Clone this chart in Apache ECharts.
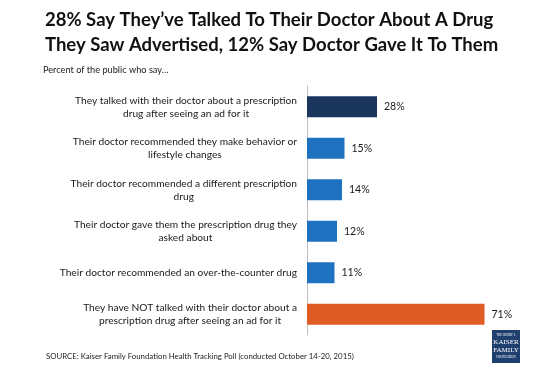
<!DOCTYPE html>
<html>
<head>
<meta charset="utf-8">
<script src="https://cdn.jsdelivr.net/npm/echarts@6/dist/echarts.min.js"></script>
<style>
html,body{margin:0;padding:0;background:#fff;}
#c{width:553px;height:369px;}
</style>
</head>
<body>
<div id="c"></div>
<script>
const categories = [
  "They talked with their doctor about a prescription\ndrug after seeing an ad for it",
  "Their doctor recommended they make behavior or\nlifestyle changes",
  "Their doctor recommended a different prescription\ndrug",
  "Their doctor gave them the prescription drug they\nasked about",
  "Their doctor recommended an over-the-counter drug",
  "They have NOT talked with their doctor about a\nprescription drug after seeing an ad for it"
];
const values = [28, 15, 14, 12, 11, 71];
const barColors = ["#1b365d", "#1f72c0", "#1f72c0", "#1f72c0", "#1f72c0", "#e05c25"];
const titleText = "28% Say They\u2019ve Talked To Their Doctor About A Drug\nThey Saw Advertised, 12% Say Doctor Gave It To Them";
const subtitleText = "Percent of the public who say\u2026";
const sourceText = "SOURCE: Kaiser Family Foundation Health Tracking Poll (conducted October 14-20, 2015)";

const FONT = "Lato, 'Open Sans', sans-serif";
const chart = echarts.init(document.getElementById('c'), null, {renderer: 'canvas'});
chart.setOption({
  backgroundColor: '#ffffff',
  animation: false,
  title: [{
    text: titleText,
    left: 45, top: 8, padding: 0,
    textStyle: {fontFamily: FONT, fontWeight: 'bold', fontSize: 18.5, lineHeight: 25, color: '#111'}
  }, {
    text: subtitleText,
    left: 43, top: 66, padding: 0,
    textStyle: {fontFamily: FONT, fontWeight: 'normal', fontSize: 9.2, color: '#222'}
  }, {
    text: sourceText,
    left: 46, top: 352, padding: 0,
    textStyle: {fontFamily: FONT, fontWeight: 'normal', fontSize: 7.8, color: '#222'}
  }],
  grid: {left: 307, top: 86, width: 200, height: 249, containLabel: false},
  xAxis: {
    type: 'value', min: 0, max: 80, show: false
  },
  yAxis: {
    type: 'category', data: categories, inverse: true,
    axisLine: {show: true, lineStyle: {color: '#bfbfbf', width: 1}},
    axisTick: {show: false},
    axisLabel: {
      margin: 10,
      formatter: function (v) {
        return v.split('\n').map(function (s) { return '{c|' + s + '}'; }).join('\n');
      },
      rich: {c: {align: 'center', fontFamily: FONT, fontSize: 10.2, lineHeight: 13, color: '#1a1a1a'}}
    }
  },
  series: [{
    type: 'bar',
    data: values.map(function (v, i) { return {value: v, itemStyle: {color: barColors[i]}}; }),
    barWidth: 21,
    label: {
      show: true, position: 'right', distance: 7,
      formatter: '{c}%', fontFamily: FONT, fontSize: 10.5, color: '#1a1a1a'
    }
  }],
  graphic: [{
    type: 'group', left: 492, top: 330,
    children: [
      {type: 'rect', shape: {x: 0, y: 0, width: 28, height: 33}, style: {fill: '#1f3f6e'}},
      {type: 'text', style: {x: 14, y: 4, text: 'THE HENRY J.', align: 'center', fill: '#fff', font: '3px serif'}},
      {type: 'text', style: {x: 14, y: 9, text: 'KAISER', align: 'center', fill: '#fff', font: '7px serif'}},
      {type: 'text', style: {x: 14, y: 17, text: 'FAMILY', align: 'center', fill: '#fff', font: '7px serif'}},
      {type: 'text', style: {x: 14, y: 26, text: 'FOUNDATION', align: 'center', fill: '#fff', font: '3px serif'}}
    ]
  }]
});
</script>
</body>
</html>
